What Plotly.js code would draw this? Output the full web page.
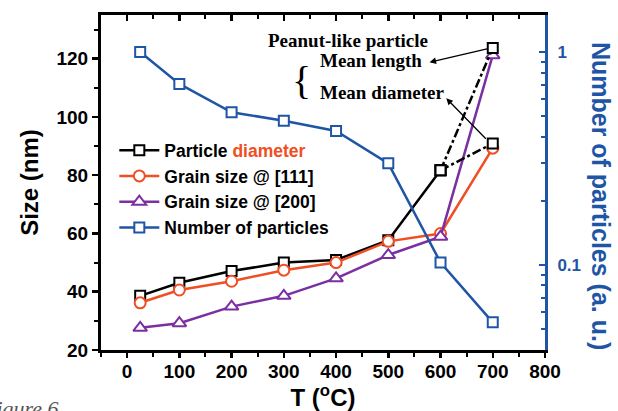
<!DOCTYPE html>
<html>
<head>
<meta charset="utf-8">
<script src="https://cdn.plot.ly/plotly-3.0.1.min.js"></script>
<style>html,body{margin:0;padding:0;background:#fff;}#chart{width:618px;height:411px;}</style>
</head>
<body>
<div id="chart"></div>
<script>
// ---- data ----
const temps = [25, 100, 200, 300, 400, 500, 600];
const particleDiameter = [38.6, 43.1, 47.1, 50.0, 50.9, 57.7, 81.7];
const peanutT = [600, 700];
const peanutLength = [81.7, 123.7];
const peanutDiameter = [81.7, 90.9];
const tempsAll = [25, 100, 200, 300, 400, 500, 600, 700];
const grain111 = [36.2, 40.6, 43.6, 47.4, 50.0, 57.3, 60.0, 89.3];
const grain200 = [27.6, 29.2, 34.9, 38.6, 44.6, 52.6, 58.9, 121.2];
const numParticles = [1.0, 0.708, 0.521, 0.476, 0.426, 0.30, 0.1026, 0.0537];
const xTicks = [0, 100, 200, 300, 400, 500, 600, 700, 800];
const yTicks = [20, 40, 60, 80, 100, 120];
const y2Ticks = [0.1, 1];
const y2Minor = [0.04, 0.05, 0.06, 0.07, 0.08, 0.09, 0.2, 0.3, 0.4, 0.5, 0.6, 0.7, 0.8, 0.9];

const BLACK = '#000000', ORANGE = '#f04e23', PURPLE = '#7b2fa0', BLUE = '#1f55a5';
const F = 'Liberation Sans, Arial, sans-serif';
const SERIF = 'Liberation Serif, Times New Roman, serif';

const traces = [
  {x: temps, y: particleDiameter, type: 'scatter', mode: 'lines+markers',
   name: 'Particle <span style="color:' + ORANGE + '">diameter</span>',
   line: {color: BLACK, width: 2.5},
   marker: {symbol: 'square', size: 10, color: '#fff', line: {color: BLACK, width: 2}}},
  {x: tempsAll, y: grain111, type: 'scatter', mode: 'lines+markers', name: 'Grain size @ [111]',
   line: {color: ORANGE, width: 2.5},
   marker: {symbol: 'circle', size: 11, color: '#fff', line: {color: ORANGE, width: 2}}},
  {x: tempsAll, y: grain200, type: 'scatter', mode: 'lines+markers', name: 'Grain size @ [200]',
   line: {color: PURPLE, width: 2.5},
   marker: {symbol: 'triangle-up', size: 12, color: '#fff', line: {color: PURPLE, width: 2}}},
  {x: tempsAll, y: numParticles, type: 'scatter', mode: 'lines+markers', name: 'Number of particles',
   yaxis: 'y2',
   line: {color: BLUE, width: 2.5},
   marker: {symbol: 'square', size: 10, color: '#fff', line: {color: BLUE, width: 2}}},
  {x: peanutT, y: peanutLength, type: 'scatter', mode: 'lines+markers', showlegend: false,
   line: {color: BLACK, width: 2.5, dash: 'dashdot'},
   marker: {symbol: 'square', size: 10, color: '#fff', line: {color: BLACK, width: 2}}},
  {x: peanutT, y: peanutDiameter, type: 'scatter', mode: 'lines+markers', showlegend: false,
   line: {color: BLACK, width: 2.5, dash: 'dashdot'},
   marker: {symbol: 'square', size: 10, color: '#fff', line: {color: BLACK, width: 2}}},
  {x: [0], y: [0], xaxis: 'x2', yaxis: 'y', type: 'scatter', mode: 'markers',
   marker: {opacity: 0}, showlegend: false, hoverinfo: 'skip'}
];

const layout = {
  width: 618, height: 411,
  margin: {l: 101, r: 73, t: 15, b: 61},
  paper_bgcolor: '#fff', plot_bgcolor: '#fff',
  font: {family: F, color: BLACK},
  showlegend: true,
  legend: {x: 0.03, y: 0.65, xanchor: 'left', yanchor: 'top', bgcolor: 'rgba(0,0,0,0)',
           font: {family: F, size: 17.5, color: BLACK, weight: 'bold'}, tracegroupgap: 0,
           itemwidth: 40},
  xaxis: {range: [-50, 800], tickvals: xTicks, ticks: 'outside', ticklen: 5, tickwidth: 2.5,
          tickcolor: BLACK, showline: true, linewidth: 3, linecolor: BLACK, showgrid: false,
          zeroline: false, ticklabelstandoff: -3,
          minor: {dtick: 50, tick0: 0, ticks: 'outside', ticklen: 4, tickwidth: 2, tickcolor: BLACK, showgrid: false},
          tickfont: {family: F, size: 19, weight: 'bold', color: BLACK},
          title: {text: 'T (<sup>o</sup>C)', standoff: 6, font: {family: F, size: 24, weight: 'bold', color: BLACK}}},
  xaxis2: {overlaying: 'x', matches: 'x', side: 'top', ticks: 'inside', ticklen: 6, tickwidth: 2.5,
           tickcolor: BLACK, tickvals: xTicks, showticklabels: false, showline: true, linewidth: 3,
           linecolor: BLACK, showgrid: false, zeroline: false,
           minor: {dtick: 50, tick0: 0, ticks: 'inside', ticklen: 4, tickwidth: 2, tickcolor: BLACK, showgrid: false}},
  yaxis: {range: [20, 135], tickvals: yTicks, ticks: 'outside', ticklen: 6, tickwidth: 2.5,
          tickcolor: BLACK, showline: true, linewidth: 3, linecolor: BLACK, showgrid: false,
          zeroline: false,
          minor: {dtick: 10, tick0: 0, ticks: 'outside', ticklen: 4, tickwidth: 2, tickcolor: BLACK, showgrid: false},
          tickfont: {family: F, size: 19, weight: 'bold', color: BLACK},
          title: {text: 'Size (nm)', standoff: 12, font: {family: F, size: 24, weight: 'bold', color: BLACK}}},
  yaxis2: {type: 'log', overlaying: 'y', side: 'right', range: [-1.40, 0.174],
           tickvals: y2Ticks, ticktext: ['0.1', '1'], ticks: 'inside', ticklen: 6, tickwidth: 2.5,
           tickcolor: BLUE, showline: true, linewidth: 3, linecolor: BLUE, showgrid: false, zeroline: false,
           minor: {tickvals: y2Minor, ticks: 'inside', ticklen: 4, tickwidth: 2, tickcolor: BLUE, showgrid: false},
           tickfont: {family: F, size: 17, weight: 'bold', color: BLUE}, ticklabelstandoff: 6},
  annotations: [
    {xref: 'paper', yref: 'paper', x: 1 + 56/444, y: 0.46, text: 'Number of particles (a. u.)',
     textangle: 90, showarrow: false, xanchor: 'center', yanchor: 'middle',
     font: {family: F, size: 25, weight: 'bold', color: BLUE}},
    {x: 422, y: 126.3, xref: 'x', yref: 'y', text: 'Peanut-like particle', showarrow: false,
     font: {family: SERIF, size: 19, weight: 'bold', color: BLACK}},
    {x: 333, y: 112.6, xref: 'x', yref: 'y', text: '{', showarrow: false,
     font: {family: SERIF, size: 40, color: BLACK}},
    {x: 366, y: 119.5, xref: 'x', yref: 'y', xanchor: 'left', text: 'Mean length', showarrow: false,
     font: {family: SERIF, size: 19, weight: 'bold', color: BLACK}},
    {x: 366, y: 108.5, xref: 'x', yref: 'y', xanchor: 'left', text: 'Mean diameter', showarrow: false,
     font: {family: SERIF, size: 19, weight: 'bold', color: BLACK}},
    {x: 579, y: 118.8, xref: 'x', yref: 'y', text: '', showarrow: true, ax: 60, ay: -14,
     arrowhead: 2, arrowsize: 1, arrowwidth: 1.3, arrowcolor: BLACK, standoff: 0},
    {x: 611, y: 106.4, xref: 'x', yref: 'y', text: '', showarrow: true, ax: 41, ay: 42,
     arrowhead: 2, arrowsize: 1, arrowwidth: 1.3, arrowcolor: BLACK, standoff: 0},
    {xref: 'paper', yref: 'paper', x: -121/444, y: -0.132, xanchor: 'left', yanchor: 'top',
     text: 'Figure 6', showarrow: false,
     font: {family: SERIF, size: 22, style: 'italic', color: '#555'}}
  ]
};

Plotly.newPlot('chart', traces, layout, {displayModeBar: false, staticPlot: true});
</script>
</body>
</html>
